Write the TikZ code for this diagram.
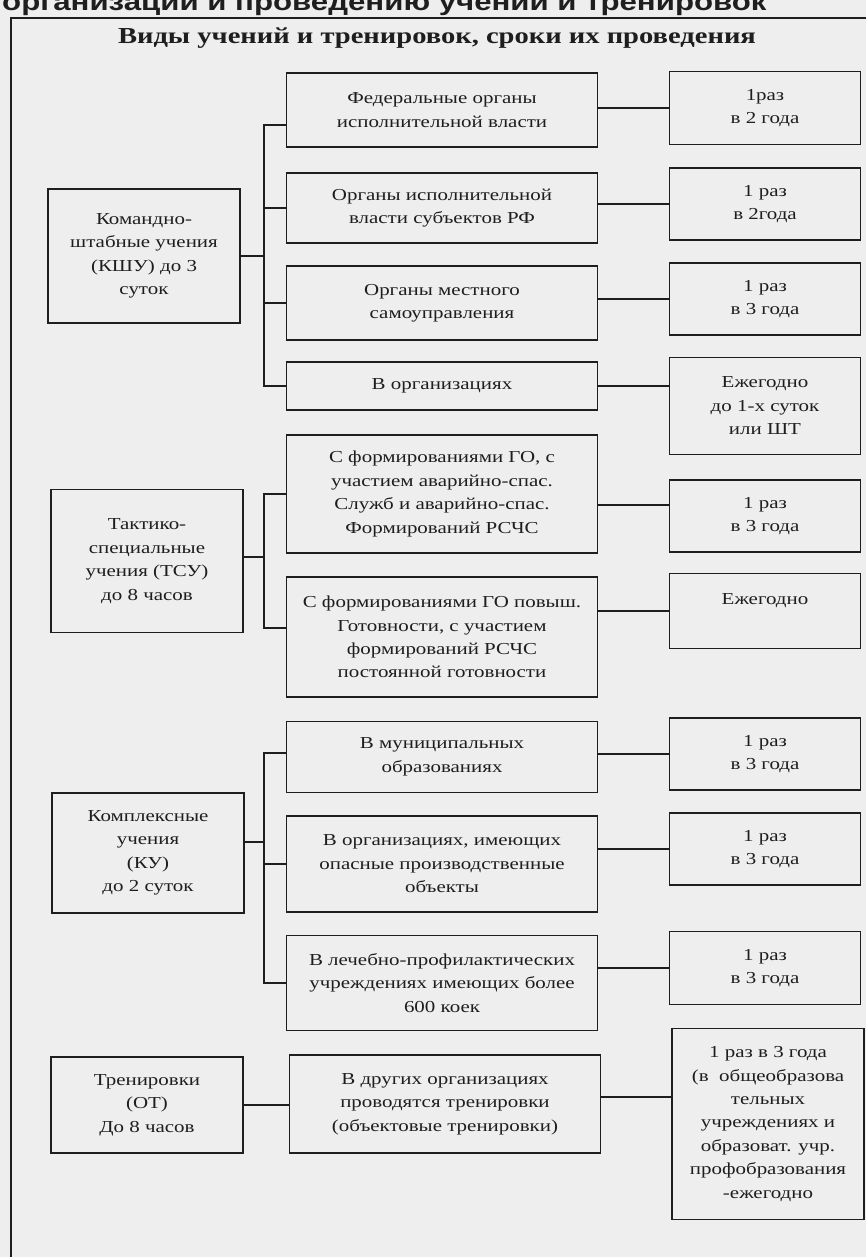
\documentclass[tikz,border=0pt]{standalone}
\usepackage{fontspec}
\setmainfont{Liberation Serif}[FakeStretch=1.25]
\newfontfamily\headfont{Liberation Sans}[FakeStretch=1.25]
\usetikzlibrary{calc}
\definecolor{paper}{RGB}{238,238,238}
\definecolor{ink}{RGB}{30,30,30}
\newcommand{\px}{0.03cm}
\newcommand{\midx}{442}
\newcommand{\rgtx}{765}
\newcommand{\lftx}{147}
\newcommand{\busx}{264}
\newcommand{\boxfont}{\fontsize{14.3}{20}\selectfont}
\begin{document}
\begin{tikzpicture}[
      x=\px, y=-\px, %one unit is one pixel of the scan
      box/.style={draw=ink, line width=1.4pt, align=center, inner sep=2pt, text=ink, font=\boxfont},
      midbox/.style={box, minimum width=311*\px},
      rgtbox/.style={box, minimum width=191*\px},
      lftbox/.style={box, minimum width=192*\px},
      link/.style={draw=ink, line width=1.3pt},
      frame/.style={draw=ink, line width=1.2pt},
      title/.style={text=ink, font=\bfseries\fontsize{19.5}{22}\selectfont}
    ]
    \useasboundingbox (0,0) rectangle (866,1257);
    \fill[paper] (0,0) rectangle (866,1257);
    %Header cut by the page edge
    \node[anchor=base west, inner sep=0, text=ink] (head) at (2,10)
      {\headfont\bfseries\fontsize{21.3}{21}\selectfont организации и проведению учений и тренировок};
    \draw[frame] (866,18) -- (11,18) -- (11,1257);
    \node[title] (ttl) at (437,38) {Виды учений и тренировок, сроки их проведения};
    % Draw the kinds of exercises
    \node[lftbox, minimum height=134*\px] (kshu) at (144,256) {Командно-\\штабные учения\\(КШУ) до 3\\суток};
    \node[lftbox, minimum height=143*\px] (tsu) at (\lftx,561) {Тактико-\\специальные\\учения (ТСУ)\\до 8 часов};
    \node[lftbox, minimum height=120*\px] (ku) at (148,853) {Комплексные\\учения\\(КУ)\\до 2 суток};
    \node[lftbox, minimum height=96*\px] (trn) at (\lftx,1105) {Тренировки\\(ОТ)\\До 8 часов};
    % Draw who takes part
    \node[midbox, minimum height=74*\px] (fed) at (\midx,110) {Федеральные органы\\исполнительной власти};
    \node[midbox, minimum height=70*\px] (subj) at (\midx,208) {Органы исполнительной\\власти субъектов РФ};
    \node[midbox, minimum height=74*\px] (loc) at (\midx,303) {Органы местного\\самоуправления};
    \node[midbox, minimum height=48*\px] (org) at (\midx,386) {В организациях};
    \node[midbox, minimum height=118*\px] (go) at (\midx,494) {С формированиями ГО, с\\участием аварийно-спас.\\Служб и аварийно-спас.\\Формирований РСЧС};
    \node[midbox, minimum height=120*\px] (ready) at (\midx,637) {С формированиями ГО повыш.\\Готовности, с участием\\формирований РСЧС\\постоянной готовности};
    \node[midbox, minimum height=71*\px] (mun) at (\midx,757) {В муниципальных\\образованиях};
    \node[midbox, minimum height=96*\px] (haz) at (\midx,864) {В организациях, имеющих\\опасные производственные\\объекты};
    \node[midbox, minimum height=95*\px] (med) at (\midx,983) {В лечебно-профилактических\\учреждениях имеющих более\\600 коек};
    \node[midbox, minimum height=98*\px] (oth) at (445,1104) {В других организациях\\проводятся тренировки\\(объектовые тренировки)};
    % Draw how often
    \node[rgtbox, minimum height=73*\px] (fedT) at (\rgtx,108) {1раз\\в 2 года};
    \node[rgtbox, minimum height=72*\px] (subjT) at (\rgtx,204) {1 раз\\в 2года};
    \node[rgtbox, minimum height=72*\px] (locT) at (\rgtx,299) {1 раз\\в 3 года};
    \node[rgtbox, minimum height=97*\px] (orgT) at (\rgtx,406) {Ежегодно\\до 1-х суток\\или ШТ};
    \node[rgtbox, minimum height=72*\px] (goT) at (\rgtx,516) {1 раз\\в 3 года};
    \node[rgtbox, minimum height=75*\px, text depth=20pt] (readyT) at (\rgtx,611) {Ежегодно};
    \node[rgtbox, minimum height=72*\px] (munT) at (\rgtx,754) {1 раз\\в 3 года};
    \node[rgtbox, minimum height=72*\px] (hazT) at (\rgtx,849) {1 раз\\в 3 года};
    \node[rgtbox, minimum height=73*\px] (medT) at (\rgtx,968) {1 раз\\в 3 года};
    \node[rgtbox, minimum height=191*\px, minimum width=192*\px] (othT) at (768,1124)
      {1 раз в 3 года\\(в~ общеобразова\\тельных\\учреждениях и\\образоват. учр.\\профобразования\\-ежегодно};
    % Buses on the left
    \coordinate (kshuBus) at (\busx,256);
    \draw[link] (kshu.east) -- (kshuBus);
    \draw[link] ([shift={(0,15)}]fed.west) -| (kshuBus) |- (org.west);
    \draw[link] (subj.west) -- (subj.west -| kshuBus);
    \draw[link] (loc.west) -- (loc.west -| kshuBus);
    \coordinate (tsuBus) at (\busx,557);
    \draw[link] (tsu.east |- tsuBus) -- (tsuBus);
    \draw[link] (go.west) -| (tsuBus) |- ([shift={(0,-9)}]ready.west);
    \coordinate (kuBus) at (\busx,842);
    \draw[link] (ku.east |- kuBus) -- (kuBus);
    \draw[link] ([shift={(0,-4)}]mun.west) -| (kuBus) |- (med.west);
    \draw[link] (haz.west) -- (haz.west -| kuBus);
    \draw[link] (trn.east) -- (trn.east -| oth.west);
    % Lines to the terms
    \draw[link] (fedT.west -| fed.east) -- (fedT.west);
    \draw[link] (subjT.west -| subj.east) -- (subjT.west);
    \draw[link] (locT.west -| loc.east) -- (locT.west);
    \draw[link] (org.east) -- (org.east -| orgT.west);
    \draw[link] ([shift={(0,11)}]go.east) -- ([shift={(0,-11)}]goT.west);
    \draw[link] (readyT.west -| ready.east) -- (readyT.west);
    \draw[link] (munT.west -| mun.east) -- (munT.west);
    \draw[link] (hazT.west -| haz.east) -- (hazT.west);
    \draw[link] (medT.west -| med.east) -- (medT.west);
    \draw[link] ([shift={(0,-7)}]oth.east) -- ([shift={(0,-7)}]oth.east -| othT.west);
\end{tikzpicture}
\end{document}
